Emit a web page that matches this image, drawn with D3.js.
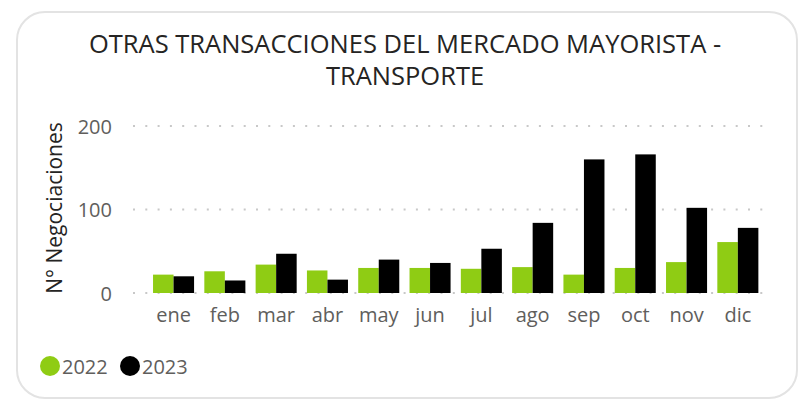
<!DOCTYPE html>
<html>
<head>
<meta charset="utf-8">
<script src="https://cdn.jsdelivr.net/npm/d3@7"></script>
<style>
  body { margin: 0; background: #fff; }
  svg text { font-family: "Open Sans", "Segoe UI", sans-serif; }
</style>
</head>
<body>
<svg id="chart"></svg>
<script>
const months = ['ene', 'feb', 'mar', 'abr', 'may', 'jun', 'jul', 'ago', 'sep', 'oct', 'nov', 'dic'];
const series = ['2022', '2023'];
const values2022 = [22, 26, 34, 27, 30, 30, 29, 31, 22, 30, 37, 61];
const values2023 = [20, 15, 47, 16, 40, 36, 53, 84, 160, 166, 102, 78];
const yTicks = [0, 100, 200];
const colors = ['#8fcc14', '#000000'];

const width = 808;
const height = 401;

const svg = d3.select('#chart')
    .attr('width', width)
    .attr('height', height);

// card frame
svg.append('rect')
    .attr('x', 17).attr('y', 12)
    .attr('width', 780).attr('height', 386)
    .attr('rx', 28)
    .attr('fill', '#fff')
    .attr('stroke', '#e3e3e3')
    .attr('stroke-width', 2);

// title
const title = svg.append('text')
    .attr('text-anchor', 'middle')
    .attr('fill', '#252423')
    .style('font-size', '25.5px');
title.append('tspan').attr('x', 405).attr('y', 53).text('OTRAS TRANSACCIONES DEL MERCADO MAYORISTA -');
title.append('tspan').attr('x', 405).attr('y', 85).text('TRANSPORTE');

const x = d3.scaleBand()
    .domain(months)
    .range([147.9, 763.5])
    .paddingInner(0.2)
    .paddingOuter(0.1);

const xSub = d3.scaleBand()
    .domain(series)
    .range([0, x.bandwidth()]);

const y = d3.scaleLinear()
    .domain([0, 200])
    .range([293, 126]);

// gridlines
svg.append('g')
    .selectAll('line')
    .data(yTicks)
    .join('line')
    .attr('x1', 133).attr('x2', 772)
    .attr('y1', d => y(d)).attr('y2', d => y(d))
    .attr('stroke', '#c8c8c8')
    .attr('stroke-width', 2)
    .attr('stroke-dasharray', '2,10.3');

// y axis labels
const yAxis = svg.append('g')
    .attr('transform', 'translate(112,0)')
    .call(d3.axisLeft(y).tickValues(yTicks).tickSize(0).tickPadding(0));
yAxis.select('.domain').remove();
yAxis.selectAll('text')
    .attr('fill', '#605e5c')
    .attr('dy', '0.36em')
    .style('font-size', '20px')
    .style('font-family', '"Open Sans", sans-serif');

// x axis labels
const xAxis = svg.append('g')
    .attr('transform', 'translate(0,322)')
    .call(d3.axisBottom(x).tickSize(0).tickPadding(0));
xAxis.select('.domain').remove();
xAxis.selectAll('text')
    .attr('fill', '#605e5c')
    .attr('dy', 0)
    .style('font-size', '20px')
    .style('font-family', '"Open Sans", sans-serif');

// y axis title
svg.append('text')
    .attr('transform', 'translate(62,208) rotate(-90)')
    .attr('text-anchor', 'middle')
    .attr('fill', '#252423')
    .style('font-size', '21px')
    .text('N° Negociaciones');

// bars
const rows = months.map((m, i) => ({ month: m, vals: [values2022[i], values2023[i]] }));
svg.append('g')
    .selectAll('g')
    .data(rows)
    .join('g')
    .attr('transform', d => `translate(${x(d.month)},0)`)
    .selectAll('rect')
    .data(d => d.vals.map((v, j) => ({ key: series[j], value: v, color: colors[j] })))
    .join('rect')
    .attr('x', d => xSub(d.key))
    .attr('width', xSub.bandwidth())
    .attr('y', d => y(d.value))
    .attr('height', d => y(0) - y(d.value))
    .attr('fill', d => d.color);

// legend
const legend = svg.append('g')
    .selectAll('g')
    .data(series)
    .join('g')
    .attr('transform', (d, i) => `translate(${50 + i * 80},366)`);
legend.append('circle')
    .attr('r', 10)
    .attr('fill', (d, i) => colors[i]);
legend.append('text')
    .attr('x', 12)
    .attr('y', 7.5)
    .attr('fill', '#605e5c')
    .style('font-size', '20px')
    .text(d => d);
</script>
</body>
</html>
